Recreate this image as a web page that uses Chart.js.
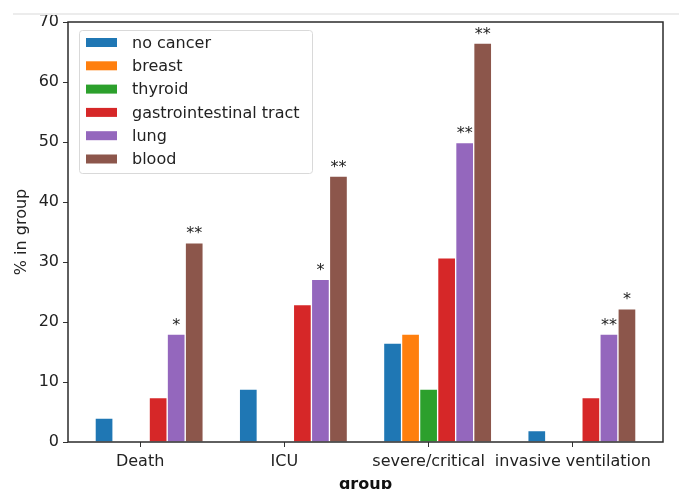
<!DOCTYPE html>
<html>
<head>
<meta charset="utf-8">
<script src="https://cdn.jsdelivr.net/npm/chart.js@4.4.1/dist/chart.umd.min.js"></script>
<style>
  html, body { margin: 0; padding: 0; background: #fff; overflow: hidden; }
  #wrap { position: relative; width: 679px; height: 489px; }
  #topline { position: absolute; left: 13px; right: 0; top: 13px; height: 2px; background: #ececec; }
</style>
</head>
<body>
<div id="wrap">
  <div id="topline"></div>
  <canvas id="chart" width="679" height="489"></canvas>
</div>
<script>
// data
const groups = ['Death', 'ICU', 'severe/critical', 'invasive ventilation'];
const seriesNames = ['no cancer', 'breast', 'thyroid', 'gastrointestinal tract', 'lung', 'blood'];
const noCancer = [4.0, 8.8, 16.5, 1.9];
const breast = [0, 0, 18.0, 0];
const thyroid = [0, 0, 8.8, 0];
const giTract = [7.4, 22.9, 30.7, 7.4];
const lung = [18.0, 27.1, 49.9, 18.0];
const blood = [33.2, 44.3, 66.5, 22.2];
const lungStars = ['*', '*', '**', '**'];
const bloodStars = ['**', '**', '**', '*'];
const yTicks = [0, 10, 20, 30, 40, 50, 60, 70];

const colors = ['#1f77b4', '#ff7f0e', '#2ca02c', '#d62728', '#9467bd', '#8c564b'];
const allSeries = [noCancer, breast, thyroid, giTract, lung, blood];
const stars = { 4: lungStars, 5: bloodStars };
const FONT = "'DejaVu Sans', sans-serif";
const ink = '#222';

// same as matplotlib: x + (i - 2) * width, width = 0.125
const datasets = allSeries.map((vals, i) => ({
    label: seriesNames[i],
    data: vals.map((v, g) => ({ x: g + (i - 2) * 0.125, y: v })),
    backgroundColor: colors[i],
    borderColor: '#ffffff',
    borderWidth: 1,
    grouped: false,
    categoryPercentage: 1,
    barPercentage: 1
}));

const framePlugin = {
    id: 'frame',
    afterDatasetsDraw(chart) {
        const a = chart.chartArea;
        const ctx = chart.ctx;
        ctx.save();
        ctx.strokeStyle = '#2b2b2b';
        ctx.lineWidth = 1.5;
        ctx.strokeRect(a.left, a.top, a.right - a.left, a.bottom - a.top);

        // significance stars
        ctx.fillStyle = ink;
        ctx.font = '16px ' + FONT;
        ctx.textAlign = 'center';
        ctx.textBaseline = 'alphabetic';
        Object.keys(stars).forEach(k => {
            const meta = chart.getDatasetMeta(+k);
            stars[k].forEach((s, g) => {
                const bar = meta.data[g];
                ctx.fillText(s, bar.x, bar.y - 4.5);
            });
        });
        ctx.restore();
    },
    afterDraw(chart) {
        // legend box upper left
        const ctx = chart.ctx;
        const x0 = 79, y0 = 30, w = 233, h = 143;
        ctx.save();
        ctx.fillStyle = 'rgba(255,255,255,0.8)';
        ctx.strokeStyle = '#d9d9d9';
        ctx.lineWidth = 1;
        ctx.beginPath();
        ctx.roundRect(x0 + 0.5, y0 + 0.5, w, h, 3);
        ctx.fill();
        ctx.stroke();
        ctx.font = '16px ' + FONT;
        ctx.textBaseline = 'middle';
        chart.data.datasets.forEach((ds, i) => {
            const cy = y0 + 12.5 + i * 23.3;
            ctx.fillStyle = ds.backgroundColor;
            ctx.fillRect(x0 + 7, cy - 4.5, 31, 9);
            ctx.fillStyle = ink;
            ctx.fillText(ds.label, x0 + 53, cy + 1);
        });
        ctx.restore();
    }
};

new Chart(document.getElementById('chart'), {
    type: 'bar',
    data: { datasets: datasets },
    options: {
        responsive: false,
        animation: false,
        layout: { padding: { top: 22, right: 16, left: 0, bottom: 0 } },
        plugins: {
            legend: { display: false },
            tooltip: { enabled: false }
        },
        scales: {
            x: {
                type: 'linear',
                offset: false,
                min: -0.5,
                max: 3.625,
                afterBuildTicks: s => { s.ticks = groups.map((g, i) => ({ value: i })); },
                afterFit: s => { s.height = 47; },
                ticks: {
                    color: ink,
                    font: { family: FONT, size: 16 },
                    padding: 5,
                    maxRotation: 0,
                    autoSkip: false,
                    callback: v => groups[v]
                },
                grid: { drawOnChartArea: false, offset: false, color: '#333', tickLength: 5 },
                border: { display: false },
                title: {
                    display: true,
                    text: 'group',
                    color: '#111',
                    font: { family: FONT, size: 16, weight: 'bold' },
                    padding: { top: 0, bottom: -5 }
                }
            },
            y: {
                min: 0,
                max: 70,
                afterBuildTicks: s => { s.ticks = yTicks.map(v => ({ value: v })); },
                afterFit: s => { s.width = 68; },
                ticks: {
                    color: ink,
                    font: { family: FONT, size: 16 },
                    padding: 4
                },
                grid: { drawOnChartArea: false, color: '#333', tickLength: 5 },
                border: { display: false },
                title: {
                    display: true,
                    text: '% in group',
                    color: ink,
                    font: { family: FONT, size: 16 },
                    padding: { top: 12, bottom: 0 }
                }
            }
        }
    },
    plugins: [framePlugin]
});
</script>
</body>
</html>
